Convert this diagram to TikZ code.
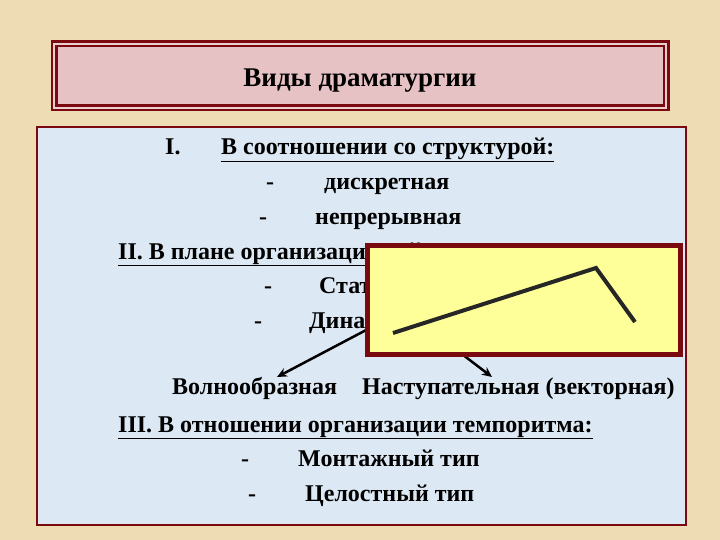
\documentclass[tikz,border=0pt]{standalone}
\usepackage{fontspec}
\usetikzlibrary{arrows.meta}
\setmainfont{Liberation Serif}
\begin{document}
\begin{tikzpicture}[x=1pt,y=-1pt,
  txt/.style={inner sep=0pt,anchor=base west,font=\fontsize{24}{26}\selectfont\bfseries},
  dsh/.style={inner sep=0pt,anchor=base,font=\fontsize{24}{26}\selectfont\bfseries},
  arr/.style={line width=2.5pt,-{Stealth[length=10pt,width=9pt]}}]
\definecolor{bg}{HTML}{EEDDB4}
\definecolor{dred}{HTML}{7A0A10}
\definecolor{pinkf}{HTML}{E6C2C4}
\definecolor{bluef}{HTML}{DCE8F4}
\definecolor{yelf}{HTML}{FFFF99}
\fill[bg] (0,0) rectangle (720,540);
\useasboundingbox (0,0) rectangle (720,540);
% title
\node[draw=dred,line width=2.5pt,fill=pinkf,minimum width=612pt,minimum height=64pt,double=pinkf!80!white,double distance=2pt] (title) at (360,76) {};
\node[inner sep=0pt,anchor=base,font=\fontsize{27}{29}\selectfont\bfseries] (tt) at (360,87) {Виды драматургии};
% blue box
\draw[dred,line width=2pt,fill=bluef] (37,127) rectangle (686,525);
\node[txt] (n1) at (165,155) {I.};
\node[txt] (t1) at (221,155) {\underline{В соотношении со структурой:}};
\node[dsh] (d1) at (270,190) {-};
\node[txt] (t2) at (324,190) {дискретная};
\node[dsh] (d2) at (263,225) {-};
\node[txt] (t3) at (315,225) {непрерывная};
\node[txt] (t4) at (118,259) {\underline{II. В плане организации действия:}};
\node[dsh] (d3) at (268,293) {-};
\node[txt] (t5) at (319,293) {Статический};
\node[dsh] (d4) at (258,328) {-};
\node[txt] (t6) at (309,328) {Динамический};
\node[txt] (w1) at (172,394) {Волнообразная};
\node[txt] (w2) at (362,394) {Наступательная (векторная)};
\node[txt] (t7) at (118,432) {\underline{III. В отношении организации темпоритма:}};
\node[dsh] (d5) at (245,466) {-};
\node[txt] (t8) at (298,466) {Монтажный тип};
\node[dsh] (d6) at (252,501) {-};
\node[txt] (t9) at (305,501) {Целостный тип};
\coordinate (s1) at (370,328);
\coordinate (s2) at (450,345);
\draw[arr] (s1) -- (277,377);
\draw[arr] (s2) -- (492,377);
% yellow box
\draw[dred,line width=5pt,fill=yelf] (367,245) rectangle (680,354);
\coordinate (p1) at (393,333);
\coordinate (p2) at (596,268);
\coordinate (p3) at (635,322);
\draw[line width=4pt,black!85] (p1) -- (p2) -- (p3);
\end{tikzpicture}
\end{document}
